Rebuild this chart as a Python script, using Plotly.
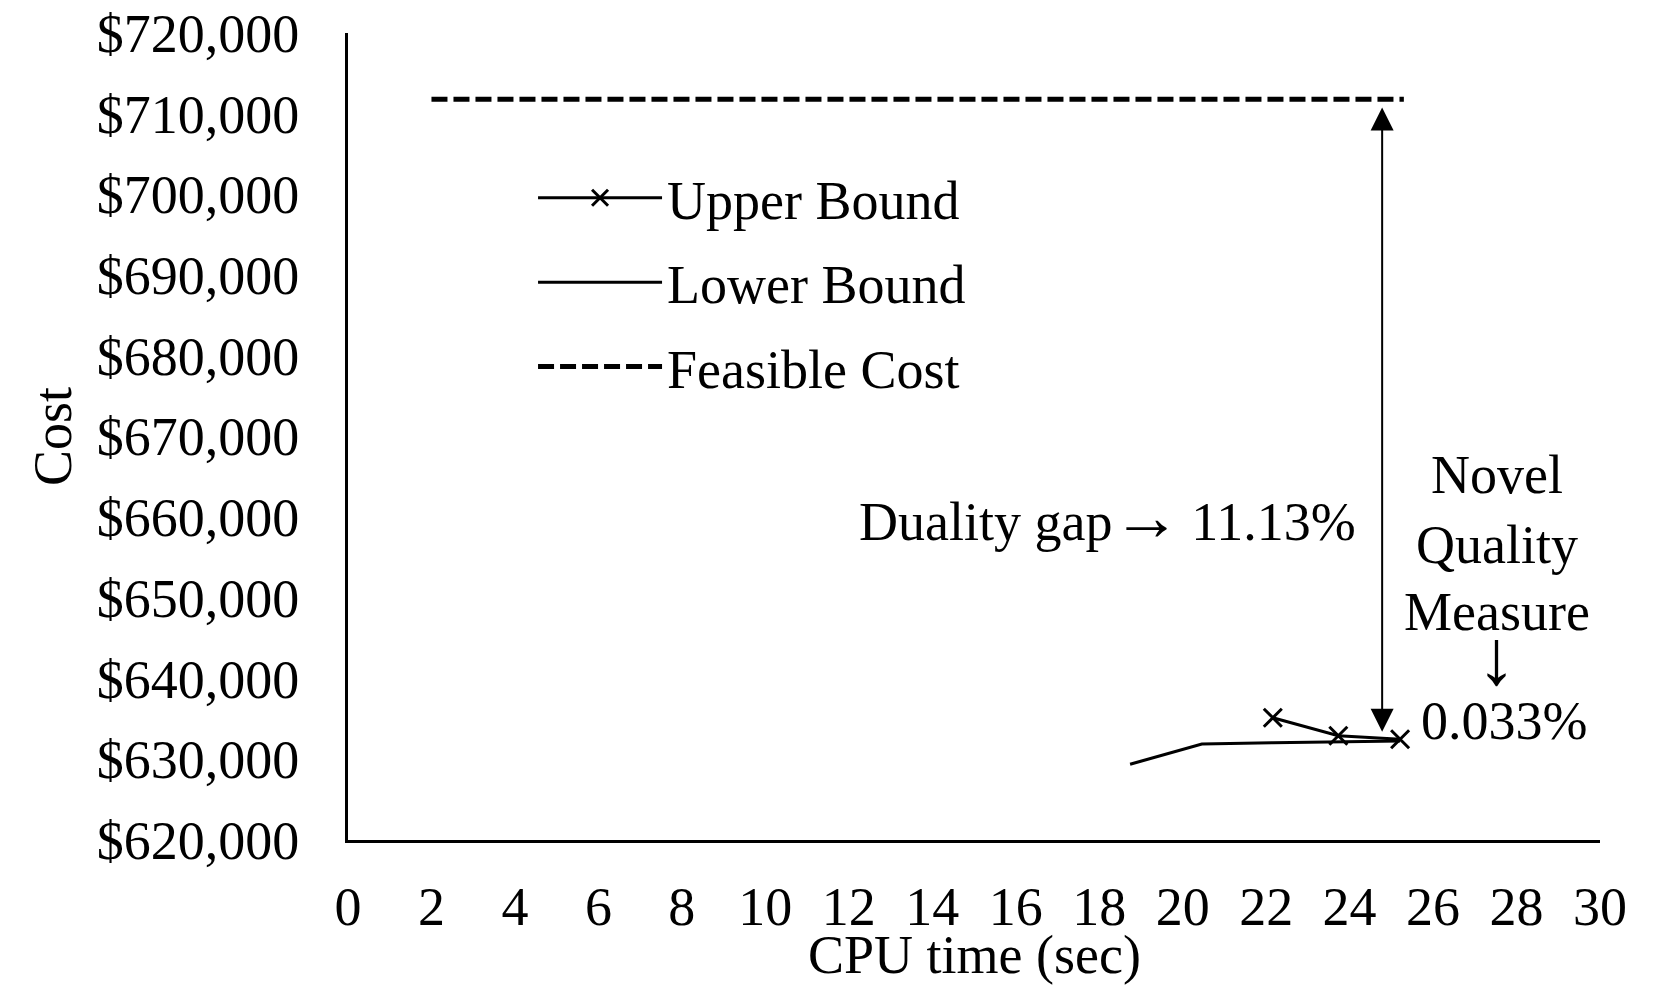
import plotly.graph_objects as go

# ---- data ----
ub_time = [22.16, 23.73, 25.21]
ub_cost = [635155, 632924, 632478]

lb_time = [18.74, 20.46, 22.16, 23.73, 25.21]
lb_cost = [629380, 631896, 632050, 632180, 632270]

feas_time = [2.0, 25.3]
feas_cost = [711800, 711800]

x_ticks = list(range(0, 31, 2))
y_ticks = list(range(620000, 720001, 10000))

FONT = "Liberation Serif, Times New Roman, serif"
FS = 54

fig = go.Figure()

fig.add_trace(go.Scatter(
    x=ub_time, y=ub_cost, name="Upper Bound", mode="lines+markers",
    line=dict(color="black", width=3),
    marker=dict(symbol="x-thin", size=18, color="black", line=dict(color="black", width=3)),
    legend="legend",
))
fig.add_trace(go.Scatter(
    x=lb_time, y=lb_cost, name="Lower Bound", mode="lines",
    line=dict(color="black", width=3),
    legend="legend2",
))
fig.add_trace(go.Scatter(
    x=feas_time, y=feas_cost, name="Feasible Cost", mode="lines",
    line=dict(color="black", width=5, dash="16px,6px"),
    legend="legend3",
))

leg_common = dict(
    font=dict(family=FONT, size=FS, color="black"),
    bgcolor="rgba(0,0,0,0)", borderwidth=0,
    xanchor="left", yanchor="middle", itemwidth=124,
    itemclick=False, itemdoubleclick=False,
)
LX = 0.1478
fig.update_layout(
    legend=dict(x=LX, y=0.7954, **leg_common),
    legend2=dict(x=LX, y=0.6907, **leg_common),
    legend3=dict(x=LX, y=0.5861, **leg_common),
)

# double-headed arrow for the duality gap
fig.add_annotation(
    x=24.78, y=633420, ax=24.78, ay=710957,
    xref="x", yref="y", axref="x", ayref="y",
    text="", showarrow=True, arrowhead=2, startarrowhead=2,
    arrowside="end+start", arrowsize=2.3, startarrowsize=2.3,
    arrowwidth=2, arrowcolor="black", standoff=0, startstandoff=0,
)

ann_font = dict(family=FONT, size=FS, color="black")
ARW = '<span style="font-size:68px">%s</span>'
fig.add_annotation(x=18.2, y=660040, xref="x", yref="y",
                   text="Duality gap" + ARW % "\u2192" + "\u2009" + "11.13%",
                   showarrow=False, font=ann_font, xanchor="center", yanchor="middle")
for txt, yy in [("Novel", 665168), ("Quality", 656556), ("Measure", 648315)]:
    fig.add_annotation(x=27.53, y=yy, xref="x", yref="y", text=txt, showarrow=False,
                       font=ann_font, xanchor="center", yanchor="middle")
fig.add_annotation(x=27.53, y=642600, xref="x", yref="y", text="\u2193", showarrow=False,
                   font=dict(family=FONT, size=78, color="black"), xanchor="center", yanchor="middle")
fig.add_annotation(x=27.69, y=634808, xref="x", yref="y", text="0.033%", showarrow=False,
                   font=ann_font, xanchor="center", yanchor="middle")

# x-axis title placed as text under the tick labels
fig.add_annotation(x=0.5, y=-0.1425, xref="paper", yref="paper", text="CPU time (sec)",
                   showarrow=False, font=ann_font, xanchor="center", yanchor="middle")

fig.update_xaxes(
    range=[0, 30], tickvals=x_ticks, ticktext=[str(v) for v in x_ticks],
    showline=True, linecolor="black", linewidth=3, showgrid=False, zeroline=False,
    ticks="", tickfont=dict(family=FONT, size=FS, color="black"), ticklabelstandoff=17,
    ticklabeloverflow="allow",
)
fig.update_yaxes(
    range=[620000, 720000], tickvals=y_ticks, ticktext=[f"${v:,}" for v in y_ticks],
    showline=True, linecolor="black", linewidth=3, showgrid=False, zeroline=False,
    ticks="", tickfont=dict(family=FONT, size=FS, color="black"), ticklabelstandoff=35,
    ticklabeloverflow="allow",
    title=dict(text="Cost", font=dict(family=FONT, size=FS, color="black"), standoff=8),
)

# page body adds an 8px margin; size the figure so the plot area lands where the reference has it
fig.update_layout(
    width=1647, height=984,
    margin=dict(l=340, r=55, t=25, b=152, autoexpand=False),
    paper_bgcolor="white", plot_bgcolor="white",
    showlegend=True,
)

fig.write_html("out.html")
